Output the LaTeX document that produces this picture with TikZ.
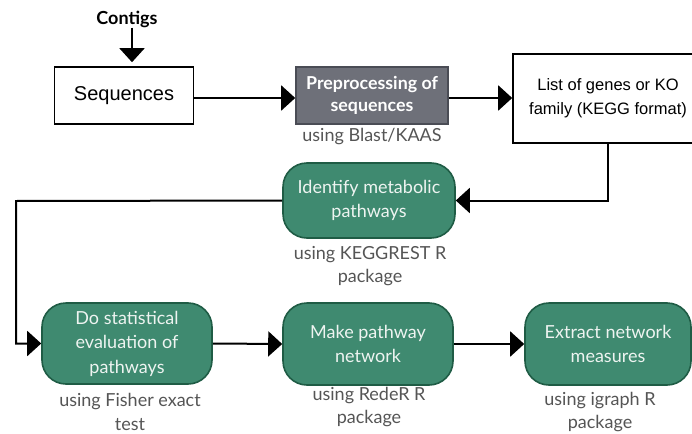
\documentclass[tikz,border=0pt]{standalone}
\usepackage{fontspec}
\setmainfont{Lato}
\newfontfamily\arialfont{Liberation Sans}
\usetikzlibrary{arrows.meta}
\definecolor{stepgreen}{HTML}{3F8A70}
\definecolor{stepgreenline}{HTML}{1F5C45}
\definecolor{prepgray}{HTML}{6E7079}
\definecolor{prepgrayline}{HTML}{4A4C55}
\definecolor{notegray}{HTML}{555555}
\definecolor{lighttext}{HTML}{EEF4F1}
\begin{document}
\begin{tikzpicture}[x=1pt,y=-1pt,
  flow/.style={line width=2pt,-{Triangle[length=14pt,width=25pt]}},
  plainbox/.style={draw=black,line width=1.6pt,fill=white,inner sep=0pt,
    font=\arialfont\fontsize{20}{24}\selectfont,align=center},
  prepbox/.style={draw=prepgrayline,line width=1.6pt,fill=prepgray,inner sep=0pt,
    text=white,font=\bfseries\fontsize{17.8}{22}\selectfont,align=center},
  greenbox/.style={draw=stepgreenline,line width=1.6pt,fill=stepgreen,rounded corners=24pt,
    inner sep=0pt,text=lighttext,font=\fontsize{18}{24.5}\selectfont,align=center},
  note/.style={text=notegray,font=\fontsize{18}{23.5}\selectfont,align=center,inner sep=0pt}]
\useasboundingbox[fill=white] (0,0) rectangle (692,433);

% input
\node[font=\bfseries\fontsize{18}{20}\selectfont,inner sep=0pt] (contigs) at (127,19) {Contigs};
\node[plainbox,minimum width=139pt,minimum height=57pt] (seq) at (124,95.5) {Sequences};
\node[prepbox,minimum width=152pt,minimum height=57pt] (prep) at (372,95.5) {Preprocessing of\\sequences};
\node[note] (prepnote) at (372,137) {using Blast/KAAS};
\node[plainbox,font=\arialfont\fontsize{16.5}{24}\selectfont,minimum width=190pt,minimum height=89pt] (list) at (608,98.5) {List of genes or KO\\family (KEGG format)};

% analysis steps
\node[greenbox,minimum width=172pt,minimum height=75pt] (ident) at (369,200.5) {Identify metabolic\\pathways};
\node[note] (identnote) at (370,266) {using KEGGREST R\\package};
\node[greenbox,minimum width=170pt,minimum height=81pt] (stat) at (127,343.5) {Do statistical\\evaluation of\\pathways};
\node[note] (statnote) at (130,412) {using Fisher exact\\test};
\node[greenbox,minimum width=170pt,minimum height=82pt] (net) at (368,344) {Make pathway\\network};
\node[note] (netnote) at (369,407) {using RedeR R\\package};
\node[greenbox,minimum width=166pt,minimum height=82pt] (meas) at (608,344) {Extract network\\measures};
\node[note] (measnote) at (600,412) {using igraph R\\package};

% connectors
\coordinate (leftrail) at (16,201);
\draw[flow,shorten >=4pt] (contigs.south -| 132,0) -- (seq.north -| 132,0);
\draw[flow] (seq.east |- 0,98) -- (prep.west |- 0,98);
\draw[flow] (prep.east |- 0,98) -- (list.west |- 0,98);
\draw[flow] (list.south) |- (ident.east);
\draw[flow] (ident.west) -- (leftrail) |- (stat.west);
\draw[flow] (stat.east) -- (net.west);
\draw[flow] (net.east) -- (meas.west);
\end{tikzpicture}
\end{document}
